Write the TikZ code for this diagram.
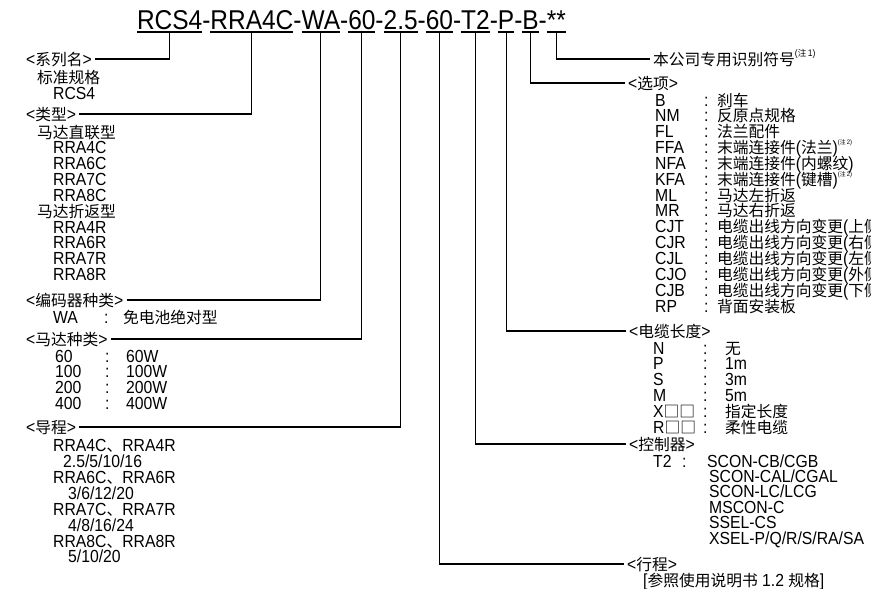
\documentclass[tikz,border=0pt]{standalone}
\usepackage{fontspec}
\usetikzlibrary{positioning}

\setmainfont{Liberation Sans}[FakeStretch=0.9]
\newfontfamily\cjk{Noto Sans CJK SC}[Scale=0.9]
\newcommand\zh[1]{{\cjk #1}}
\newcommand\zhnote[2][9.5]{\raisebox{0.5em}{\fontsize{#1}{#1}\selectfont(\zh{注}\,#2)}}

\tikzset{
  txt/.style={anchor=west, inner sep=0pt, text height=12.5pt, text depth=0.5pt},
  lbl/.style={txt, inner xsep=3pt},
  ttl/.style={inner sep=0pt, outer sep=0pt, font=\fontsize{27.2}{27.2}\selectfont},
  conn/.style={line width=1.1pt},
}

\begin{document}
\begin{tikzpicture}[x=1pt, y=-1pt, font=\fontsize{17.5}{16}\selectfont]
\useasboundingbox (0,0) rectangle (871,589);
\clip (0,0) rectangle (871,589);

% model code
\node[ttl, anchor=base west] (rcs) at (137,29) {RCS4};
\node[ttl, base right=0pt of rcs] (d1) {-};
\node[ttl, base right=0pt of d1] (rra) {RRA4C};
\node[ttl, base right=0pt of rra] (d2) {-};
\node[ttl, base right=0pt of d2] (wa) {WA};
\node[ttl, base right=0pt of wa] (d3) {-};
\node[ttl, base right=0pt of d3] (mot) {60};
\node[ttl, base right=0pt of mot] (d4) {-};
\node[ttl, base right=0pt of d4] (lead) {2.5};
\node[ttl, base right=0pt of lead] (d5) {-};
\node[ttl, base right=0pt of d5] (strk) {60};
\node[ttl, base right=0pt of strk] (d6) {-};
\node[ttl, base right=0pt of d6] (ctl) {T2};
\node[ttl, base right=0pt of ctl] (d7) {-};
\node[ttl, base right=0pt of d7] (cab) {P};
\node[ttl, base right=0pt of cab] (d8) {-};
\node[ttl, base right=0pt of d8] (opt) {B};
\node[ttl, base right=0pt of opt] (d9) {-};
\node[ttl, base right=0pt of d9] (idn) {**};
\foreach \s in {rcs,rra,wa,mot,lead,strk,ctl,cab,opt,idn}
  \draw[conn] ([yshift=-3pt]\s.base west) -- ([yshift=-3pt]\s.base east);

% left column
\node[lbl] (lser) at (23,59) {<\zh{系列名}>};
\node[txt] (ser1) at (37,77) {\zh{标准规格}};
\node[txt] (ser2) at (53,93) {RCS4};

\node[lbl] (ltyp) at (23,114) {<\zh{类型}>};
\node[txt] (typc) at (37,132) {\zh{马达直联型}};
\foreach \t [count=\i from 0] in {RRA4C,RRA6C,RRA7C,RRA8C}
  \node[txt] (typc\i) at (53,{147.9+15.85*\i}) {\t};
\node[txt] (typr) at (37,211.3) {\zh{马达折返型}};
\foreach \t [count=\i from 0] in {RRA4R,RRA6R,RRA7R,RRA8R}
  \node[txt] (typr\i) at (53,{227.1+15.85*\i}) {\t};

\node[lbl] (lenc) at (23,300) {<\zh{编码器种类}>};
\node[txt] (enck) at (53,317) {WA};
\node[txt] (encc) at (104,317) {:};
\node[txt] (encv) at (123,317) {\zh{免电池绝对型}};

\node[lbl] (lmot) at (23,339) {<\zh{马达种类}>};
\foreach \k/\v [count=\i from 0] in {60/60W,100/100W,200/200W,400/400W}{
  \node[txt] (motk\i) at (55,{356+15.7*\i}) {\k};
  \node[txt] (motc\i) at (105,{356+15.7*\i}) {:};
  \node[txt] (motv\i) at (126,{356+15.7*\i}) {\v};
}

\node[lbl] (llead) at (23,427) {<\zh{导程}>};
\node[txt] (ld1) at (53,445) {RRA4C\zh{、}RRA4R};
\node[txt] (ld2) at (63,461) {2.5/5/10/16};
\node[txt] (ld3) at (53,477) {RRA6C\zh{、}RRA6R};
\node[txt] (ld4) at (68,493) {3/6/12/20};
\node[txt] (ld5) at (53,509) {RRA7C\zh{、}RRA7R};
\node[txt] (ld6) at (68,525) {4/8/16/24};
\node[txt] (ld7) at (53,541) {RRA8C\zh{、}RRA8R};
\node[txt] (ld8) at (68,556) {5/10/20};

% right column
\node[lbl] (lidn) at (650,59) {\zh{本公司专用识别符号}\zhnote{1}};

\node[lbl] (lopt) at (625,83) {<\zh{选项}>};
\foreach \k/\v [count=\i from 0] in {
  B/{\zh{刹车}}, NM/{\zh{反原点规格}}, FL/{\zh{法兰配件}},
  FFA/{\zh{末端连接件}(\zh{法兰})\zhnote[6.5]{2}},
  NFA/{\zh{末端连接件}(\zh{内螺纹})},
  KFA/{\zh{末端连接件}(\zh{键槽})\zhnote[6.5]{2}},
  ML/{\zh{马达左折返}}, MR/{\zh{马达右折返}},
  CJT/{\zh{电缆出线方向变更}(\zh{上侧})},
  CJR/{\zh{电缆出线方向变更}(\zh{右侧})},
  CJL/{\zh{电缆出线方向变更}(\zh{左侧})},
  CJO/{\zh{电缆出线方向变更}(\zh{外侧})},
  CJB/{\zh{电缆出线方向变更}(\zh{下侧})},
  RP/{\zh{背面安装板}}}{
  \node[txt] (optk\i) at (655,{100+15.85*\i}) {\k};
  \node[txt] (optc\i) at (704,{100+15.85*\i}) {:};
  \node[txt] (optv\i) at (717,{100+15.85*\i}) {\v};
}

\node[lbl] (lcab) at (626,331) {<\zh{电缆长度}>};
\foreach \k/\v [count=\i from 0] in {N/{\zh{无}}, P/1m, S/3m, M/5m,
  {X\zh{□□}}/{\zh{指定长度}}, {R\zh{□□}}/{\zh{柔性电缆}}}{
  \node[txt] (cabk\i) at (653,{348+15.8*\i}) {\k};
  \node[txt] (cabc\i) at (703,{348+15.8*\i}) {:};
  \node[txt] (cabv\i) at (725,{348+15.8*\i}) {\v};
}

\node[lbl] (lctl) at (626,444) {<\zh{控制器}>};
\node[txt] (ctlk) at (653,461) {T2};
\node[txt] (ctlc) at (682,461) {:};
\node[txt] (ctlv) at (707,461) {SCON-CB/CGB};
\foreach \c [count=\i from 0] in {SCON-CAL/CGAL,SCON-LC/LCG,MSCON-C,SSEL-CS,XSEL-P/Q/R/S/RA/SA}
  \node[txt] (ctlv\i) at (709,{476.4+15.4*\i}) {\c};

\node[lbl] (lstr) at (624,564) {<\zh{行程}>};
\node[txt] (str1) at (643,580) {[\zh{参照使用说明书} 1.2 \zh{规格}]};

% connectors
\draw[conn] ([yshift=-3pt]rcs.base) |- (lser.east);
\draw[conn] ([yshift=-3pt]rra.base) |- (ltyp.east);
\draw[conn] ([yshift=-3pt]wa.base) |- (lenc.east);
\draw[conn] ([yshift=-3pt]mot.base) |- (lmot.east);
\draw[conn] ([yshift=-3pt]lead.base) |- (llead.east);
\draw[conn] ([yshift=-3pt]strk.base) |- (lstr.west);
\draw[conn] ([yshift=-3pt]ctl.base) |- (lctl.west);
\draw[conn] ([yshift=-3pt]cab.base) |- (lcab.west);
\draw[conn] ([yshift=-3pt]opt.base) |- (lopt.west);
\draw[conn] ([yshift=-3pt]idn.base) |- (lidn.west);
\end{tikzpicture}
\end{document}
